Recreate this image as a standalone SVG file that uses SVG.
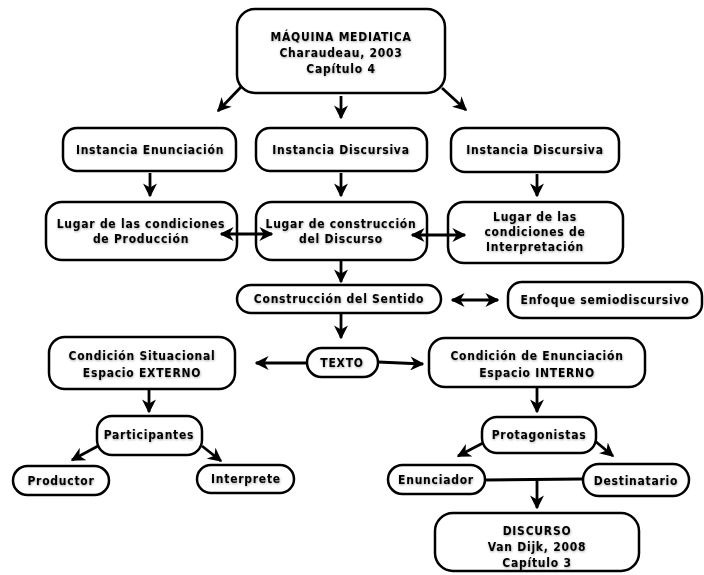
<svg xmlns="http://www.w3.org/2000/svg" width="704" height="575" viewBox="0 0 704 575">
<defs>
<marker id="ah" viewBox="0 0 10 10" refX="9" refY="5" markerWidth="5" markerHeight="5" orient="auto-start-reverse" markerUnits="strokeWidth">
<path d="M0,0 L10,5 L0,10 L3,5 z" fill="#000"/>
</marker>
<filter id="sh" x="-5%" y="-20%" width="110%" height="140%">
<feDropShadow dx="0.5" dy="1" stdDeviation="0.8" flood-color="#000" flood-opacity="0.35"/>
</filter>
</defs>
<style>
rect{fill:#fff;stroke:#000;stroke-width:2.5}
text{font-family:"DejaVu Sans Condensed","DejaVu Sans",sans-serif;font-weight:bold;font-size:12px;letter-spacing:0.75px;text-anchor:middle;fill:#000;filter:url(#sh)}
.c line,.c path{stroke:#000;stroke-width:2.8;fill:none}
.a{marker-end:url(#ah)}
.d{marker-start:url(#ah);marker-end:url(#ah)}
</style>
<rect x="0" y="0" width="704" height="575" style="fill:#fff;stroke:none"/>
<g id="n1"><rect x="237" y="9" width="208" height="84" rx="18"/><text x="341" y="41">MÁQUINA MEDIATICA</text><text x="341" y="57">Charaudeau, 2003</text><text x="341" y="73">Capítulo 4</text></g>
<g id="n2"><rect x="63" y="128" width="173" height="43" rx="14"/><text x="150" y="154">Instancia Enunciación</text></g>
<g id="n3"><rect x="256" y="128" width="171" height="43" rx="14"/><text x="341" y="154">Instancia Discursiva</text></g>
<g id="n4"><rect x="451" y="128" width="168" height="44" rx="14"/><text x="535" y="154">Instancia Discursiva</text></g>
<g id="n5"><rect x="46" y="202" width="191" height="58" rx="16"/><text x="141" y="228">Lugar de las condiciones</text><text x="141" y="243">de Producción</text></g>
<g id="n6"><rect x="256" y="202" width="171" height="58" rx="16"/><text x="341" y="228">Lugar de construcción</text><text x="341" y="243">del Discurso</text></g>
<g id="n7"><rect x="448" y="202" width="175" height="61" rx="16"/><text x="535" y="221">Lugar de las</text><text x="535" y="236">condiciones de</text><text x="535" y="251">Interpretación</text></g>
<g id="n8"><rect x="237" y="285" width="204" height="28" rx="14"/><text x="339" y="303">Construcción del Sentido</text></g>
<g id="n9"><rect x="508" y="282" width="194" height="36" rx="14"/><text x="605" y="304">Enfoque semiodiscursivo</text></g>
<g id="n10"><rect x="307" y="348" width="71" height="29" rx="14.5"/><text x="342" y="367">TEXTO</text></g>
<g id="n11"><rect x="49" y="337" width="186" height="52" rx="16"/><text x="142" y="360">Condición Situacional</text><text x="142" y="377">Espacio EXTERNO</text></g>
<g id="n12"><rect x="429" y="338" width="216" height="49" rx="16"/><text x="537" y="360">Condición de Enunciación</text><text x="537" y="377">Espacio INTERNO</text></g>
<g id="n13"><rect x="97" y="416" width="105" height="39" rx="15"/><text x="149" y="439">Participantes</text></g>
<g id="n14"><rect x="13" y="466" width="96" height="29" rx="14.5"/><text x="61" y="485">Productor</text></g>
<g id="n15"><rect x="197" y="465" width="97" height="28" rx="14"/><text x="246" y="483">Interprete</text></g>
<g id="n16"><rect x="482" y="417" width="114" height="36" rx="15"/><text x="539" y="439">Protagonistas</text></g>
<g id="n17"><rect x="388" y="465" width="97" height="29" rx="14.5"/><text x="436" y="484">Enunciador</text></g>
<g id="n18"><rect x="583" y="464" width="106" height="32" rx="16"/><text x="636" y="485">Destinatario</text></g>
<g id="n19"><rect x="435" y="513" width="204" height="58" rx="18"/><text x="537" y="535">DISCURSO</text><text x="537" y="551">Van Dijk, 2008</text><text x="537" y="567">Capítulo 3</text></g>
<g class="c" id="connectors">
<line class="a" x1="241" y1="87" x2="218" y2="111"/>
<line class="a" x1="341" y1="96" x2="341" y2="118"/>
<line class="a" x1="442" y1="88" x2="466" y2="110"/>
<line class="a" x1="150" y1="173" x2="150" y2="196"/>
<line class="a" x1="341" y1="173" x2="341" y2="196"/>
<line class="a" x1="537" y1="174" x2="537" y2="196"/>
<line class="d" x1="221" y1="234" x2="272" y2="234"/>
<line class="d" x1="412" y1="235" x2="465" y2="235"/>
<line class="a" x1="341" y1="261" x2="341" y2="282"/>
<line class="d" x1="452" y1="300" x2="498" y2="300"/>
<line class="a" x1="341" y1="314" x2="341" y2="338"/>
<line class="a" x1="307" y1="363" x2="256" y2="363"/>
<line class="a" x1="378" y1="362" x2="423" y2="364"/>
<line class="a" x1="149" y1="390" x2="149" y2="412"/>
<line class="a" x1="537" y1="388" x2="537" y2="412"/>
<line class="a" x1="98" y1="446" x2="72" y2="460"/>
<line class="a" x1="202" y1="446" x2="221" y2="461"/>
<line class="a" x1="483" y1="443" x2="458" y2="456"/>
<line class="a" x1="595" y1="441" x2="613" y2="456"/>
<line x1="486" y1="480" x2="582" y2="479"/>
<line class="a" x1="537" y1="480" x2="537" y2="508"/>
</g>
</svg>
